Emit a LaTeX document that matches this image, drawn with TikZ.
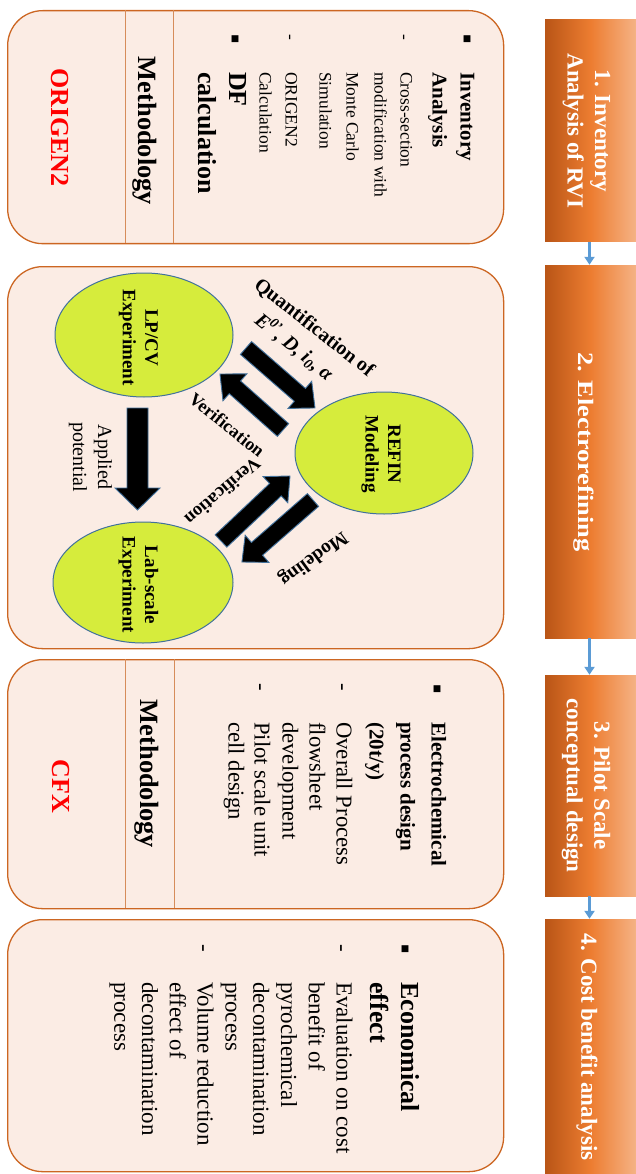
\documentclass[tikz,border=0pt]{standalone}
\usepackage{fontspec}
\setmainfont{Liberation Serif}
\newfontfamily\symfont{DejaVu Sans}
\usetikzlibrary{arrows.meta,shapes.geometric}
\definecolor{pfill}{RGB}{251,236,228}
\definecolor{pedge}{RGB}{204,102,34}
\definecolor{pline}{RGB}{214,140,90}
\definecolor{odark}{RGB}{185,85,22}
\definecolor{omid}{RGB}{237,125,49}
\definecolor{olight}{RGB}{245,180,135}
\definecolor{ablue}{RGB}{91,155,213}
\definecolor{elfill}{RGB}{214,236,60}
\definecolor{eledge}{RGB}{65,113,156}
\definecolor{redtxt}{RGB}{255,0,0}
\tikzset{
  panel/.style={rectangle, draw=pedge, line width=1.3pt, fill=pfill, rounded corners=35pt, anchor=north west, inner sep=0pt},
  divline/.style={draw=pline, line width=0.9pt},
  obox/.style={rectangle, inner sep=0pt, minimum width=92pt, left color=odark, right color=olight, middle color=omid},
  btxt/.style={rotate=-90, text=white, align=center, inner sep=0pt, font=\fontsize{23}{27.5}\selectfont\bfseries},
  flow/.style={draw=ablue, line width=2.4pt, -{Triangle[width=10pt,length=8pt]}},
  ell/.style={ellipse, draw=eledge, line width=1pt, fill=elfill, inner sep=0pt},
  etxt/.style={rotate=-90, align=center, inner sep=0pt, font=\fontsize{19}{22.5}\selectfont\bfseries},
  lt/.style={rotate=-90, anchor=mid west, inner sep=0pt},
  mk/.style={rotate=-90, anchor=mid, inner sep=0pt},
  sq/.style={inner sep=0pt, font=\symfont\fontsize{9}{9}\selectfont},
  hA/.style={lt, font=\fontsize{21}{25}\selectfont\bfseries},
  hB/.style={lt, font=\fontsize{26}{30}\selectfont\bfseries},
  sA/.style={lt, font=\fontsize{17.5}{20}\selectfont},
  sB/.style={lt, font=\fontsize{22.7}{26}\selectfont},
  sC/.style={lt, font=\fontsize{23}{26}\selectfont},
  meth/.style={rotate=-90, inner sep=0pt, font=\fontsize{26.4}{30}\selectfont\bfseries},
  tool/.style={rotate=-90, inner sep=0pt, text=redtxt, font=\fontsize{26}{30}\selectfont\bfseries},
  albl/.style={inner sep=0pt, font=\fontsize{18}{22}\selectfont\bfseries},
  blkst/.style={draw=eledge, fill=black, line width=0.9pt, line join=miter},
  pics/blk/.style n args={4}{code={
    \draw[blkst] (0,#2) -- ({#1-#4},#2) -- ({#1-#4},#3) -- (#1,0) -- ({#1-#4},-#3) -- ({#1-#4},-#2) -- (0,-#2) -- cycle;}}
}
\begin{document}
\begin{tikzpicture}[x=1pt,y=-1pt]
\useasboundingbox (0,0) rectangle (635,1174);

% ---------- right column: process steps ----------
\node[obox, minimum height=222] (b1) at (591,131) {};
\node[obox, minimum height=373] (b2) at (591,451.5) {};
\node[obox, minimum height=221] (b3) at (591,785.5) {};
\node[obox, minimum height=257] (b4) at (591,1047.5) {};
\node[btxt] (t1) at (586.5,131) {1. Inventory\\Analysis of RVI};
\node[btxt, font=\fontsize{22}{26}\selectfont\bfseries] (t2) at (584,452) {\scalebox{1.2}[1]{2. Electrorefining}};
\node[btxt] (t3) at (586,785.5) {3. Pilot Scale\\conceptual design};
\node[btxt] (t4) at (587,1047) {4. Cost benefit analysis};
\draw[flow] ([xshift=-1.5pt]b1.south) -- ([xshift=-1.5pt]b2.north);
\draw[flow] ([xshift=-1.5pt]b2.south) -- ([xshift=-1.5pt]b3.north);
\draw[flow] ([xshift=-1.5pt]b3.south) -- ([xshift=-1.5pt]b4.north);

% ---------- panels ----------
\node[panel, minimum width=496, minimum height=233] (p1) at (7,10) {};
\node[panel, minimum width=496, minimum height=382] (p2) at (7,266) {};
\node[panel, minimum width=496, minimum height=249] (p3) at (7,659) {};
\node[panel, minimum width=496, minimum height=252] (p4) at (7,919) {};
\draw[divline] (125,10) -- (125,243);
\draw[divline] (173,10) -- (173,243);
\draw[divline] (125,659) -- (125,908);
\draw[divline] (174,659) -- (174,908);

% ---------- panel 1 ----------
\node[sq] (q1a) at (467,39) {■};
\node[hA] (q1b) at (463,72) {Inventory};
\node[hA] (q1c) at (435,72) {Analysis};
\node[mk, font=\fontsize{17.5}{20}\selectfont] (d1a) at (402,37) {-};
\node[sA] (s1a) at (403,72) {Cross-section};
\node[sA] (s1b) at (377,72) {modification with};
\node[sA] (s1c) at (349,72) {Monte Carlo};
\node[sA] (s1d) at (322,72) {Simulation};
\node[mk, font=\fontsize{17.5}{20}\selectfont] (d1b) at (288,37) {-};
\node[sA] (s1e) at (288,72) {ORIGEN2};
\node[sA] (s1f) at (262,72) {Calculation};
\node[sq] (q1d) at (235,39) {■};
\node[hB] (q1e) at (232,72) {DF};
\node[hB] (q1f) at (201,72) {calculation};
\node[meth] (m1) at (145,131) {Methodology};
\node[tool] (o1) at (60,127.5) {ORIGEN2};

% ---------- panel 2 ----------
\node[ell, minimum width=178, minimum height=124] (lp) at (144,335) {};
\node[ell, minimum width=180, minimum height=121] (lab) at (143,582.5) {};
\node[ell, minimum width=178, minimum height=122] (refin) at (384,453) {};
\node[etxt] (lpT) at (138.5,337.5) {LP/CV\\Experiment};
\node[etxt] (labT) at (138.5,585) {Lab-scale\\Experiment};
\node[etxt] (refT) at (381,454) {REFIN\\Modeling};
\pic (arLab) [rotate=-90] at (137.5,408) {blk={102}{10.5}{22.5}{22}};
\pic (arA) [rotate=-41] at (246,348) {blk={91.4}{8.5}{18}{20}};
\pic (arB) [rotate=138.4] at (283,430) {blk={84.3}{8.5}{18}{20}};
\pic (arC) [rotate=43.3] at (221,541) {blk={94.8}{8.5}{18}{20}};
\pic (arD) [rotate=-138.9] at (313,500) {blk={94.3}{8.5}{18}{20}};
\node[albl, font=\fontsize{20}{24}\selectfont\bfseries, rotate=-38] (qa) at (314,328) {Quantification of};
\node[albl, font=\fontsize{20}{24}\selectfont\bfseries\itshape, rotate=-39] (qb) at (294.5,346.5) {E\textsuperscript{0\textquoteright}, D, i\textsubscript{0}, α};
\node[albl, rotate=-38.7] (v1) at (227,425) {Verification};
\node[albl, font=\fontsize{18.5}{22}\selectfont\bfseries, rotate=-139.2] (v2) at (223,492) {Verification};
\node[albl, font=\fontsize{19.5}{22}\selectfont\bfseries, rotate=-144] (md) at (313,558) {Modeling};
\node[rotate=-90, align=center, inner sep=0pt, font=\fontsize{20}{25}\selectfont] (ap) at (90.5,457) {Applied\\potential};

% ---------- panel 3 ----------
\node[sq] (q3a) at (437,689) {■};
\node[hA] (q3b) at (434,722) {Electrochemical};
\node[hA] (q3c) at (403,722) {process design};
\node[hA] (q3d) at (372,722) {(20t/y)};
\node[mk, font=\fontsize{22.7}{26}\selectfont] (d3a) at (339,687) {-};
\node[sB] (s3a) at (339,722) {Overall Process};
\node[sB] (s3b) at (312,722) {flowsheet};
\node[sB] (s3c) at (285,722) {development};
\node[mk, font=\fontsize{22.7}{26}\selectfont] (d3b) at (257,687) {-};
\node[sB] (s3d) at (257,722) {Pilot scale unit};
\node[sB] (s3e) at (231,722) {cell design};
\node[meth] (m3) at (147,774) {Methodology};
\node[tool] (o3) at (61,786.5) {CFX};

% ---------- panel 4 ----------
\node[sq] (q4a) at (405,949) {■};
\node[hB] (q4b) at (404,982) {Economical};
\node[hB] (q4c) at (373,982) {effect};
\node[mk, font=\fontsize{23}{26}\selectfont] (d4a) at (338,948) {-};
\node[sC] (s4a) at (339,982) {Evaluation on cost};
\node[sC] (s4b) at (311.2,982) {benefit of};
\node[sC] (s4c) at (283.4,982) {pyrochemical};
\node[sC] (s4d) at (255.6,982) {decontamination};
\node[sC] (s4e) at (227.8,982) {process};
\node[mk, font=\fontsize{23}{26}\selectfont] (d4b) at (200,948) {-};
\node[sC] (s4f) at (200,982) {Volume reduction};
\node[sC] (s4g) at (172.2,982) {effect of};
\node[sC] (s4h) at (144.4,982) {decontamination};
\node[sC] (s4i) at (116.6,982) {process};
\end{tikzpicture}
\end{document}
